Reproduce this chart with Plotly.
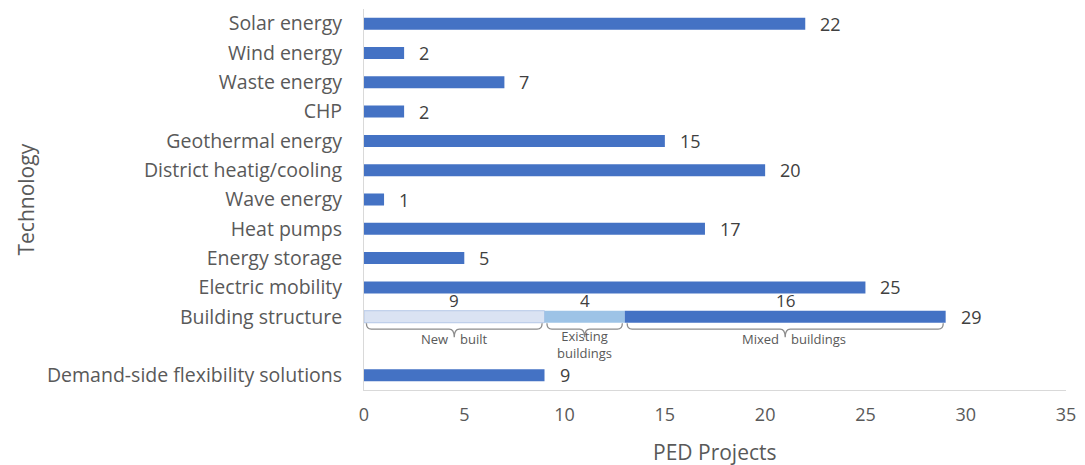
import plotly.graph_objects as go

# Technologies adopted by PED projects (top to bottom)
categories = [
    "Solar energy", "Wind energy", "Waste energy", "CHP", "Geothermal energy",
    "District heatig/cooling", "Wave energy", "Heat pumps", "Energy storage",
    "Electric mobility", "Building structure", "", "Demand-side flexibility solutions",
]
project_counts = [22, 2, 7, 2, 15, 20, 1, 17, 5, 25, None, None, 9]

# Building structure breakdown
building_types = ["New built", "Existing buildings", "Mixed buildings"]
building_counts = [9, 4, 16]
building_colors = ["#dae3f3", "#9dc3e6", "#4472c4"]

x_ticks = [0, 5, 10, 15, 20, 25, 30, 35]

FONT = "Open Sans"
BAR = "#4472c4"
TXT = "#595959"
VAL = "#404040"
BAR_W = 0.41

positions = list(range(len(categories)))
b_idx = categories.index("Building structure")

fig = go.Figure()

# simple bars
sx, sy = [], []
for p, v in zip(positions, project_counts):
    if v is not None:
        sx.append(v)
        sy.append(p)
fig.add_trace(go.Bar(x=sx, y=sy, orientation="h", width=BAR_W,
                     marker=dict(color=BAR, line=dict(width=0)),
                     hoverinfo="x+y", showlegend=False))

# stacked building structure bar
base = 0
bases = []
for name, cnt, col in zip(building_types, building_counts, building_colors):
    bases.append(base)
    fig.add_trace(go.Bar(x=[cnt], y=[b_idx], base=[base], orientation="h",
                         width=BAR_W, name=name, showlegend=False,
                         marker=dict(color=col,
                                     line=dict(width=1 if col == "#dae3f3" else 0,
                                               color="#b4c7e7"))))
    base += cnt
total_building = base

annotations = []
val_font = dict(family=FONT, size=18, color=VAL)
# value labels
for p, v in zip(positions, project_counts):
    if v is not None:
        annotations.append(dict(x=v, y=p, text=str(v), xanchor="left", yanchor="middle",
                                xshift=13, showarrow=False, font=val_font))
annotations.append(dict(x=total_building, y=b_idx, text=str(total_building),
                        xanchor="left", yanchor="middle", xshift=13, showarrow=False,
                        font=val_font))

shapes = []
y_top = b_idx + 0.22
y_mid = b_idx + 0.42
y_bot = b_idx + 0.70
d = 0.25
for name, cnt, b0 in zip(building_types, building_counts, bases):
    x0, x1 = b0 + 0.12, b0 + cnt - 0.12
    xc = b0 + cnt / 2
    # segment count above the bar
    annotations.append(dict(x=xc, y=b_idx, text=str(cnt), yshift=16, showarrow=False,
                            xanchor="center", yanchor="middle",
                            font=dict(family=FONT, size=17, color=VAL)))
    # curly brace under the segment
    path = (f"M {x0},{y_top} Q {x0},{y_mid} {x0 + d},{y_mid} "
            f"L {xc - d},{y_mid} Q {xc},{y_mid} {xc},{y_bot} "
            f"Q {xc},{y_mid} {xc + d},{y_mid} "
            f"L {x1 - d},{y_mid} Q {x1},{y_mid} {x1},{y_top}")
    shapes.append(dict(type="path", path=path, xref="x", yref="y",
                       line=dict(color="#8c8c8c", width=1.3)))
    words = name.split(" ")
    lab_font = dict(family=FONT, size=13, color=TXT)
    if name == "Existing buildings":
        annotations.append(dict(x=xc, y=b_idx + 0.95, text="<br>".join(words),
                                showarrow=False, xanchor="center", yanchor="middle",
                                font=lab_font))
    else:
        annotations.append(dict(x=xc, y=b_idx + 0.75, text=words[0], showarrow=False,
                                xanchor="right", yanchor="middle", xshift=-4,
                                font=lab_font))
        annotations.append(dict(x=xc, y=b_idx + 0.75, text=words[1], showarrow=False,
                                xanchor="left", yanchor="middle", xshift=4,
                                font=lab_font))

# axis titles
annotations.append(dict(x=0, y=0.5, xref="paper", yref="paper", xshift=-339,
                        text="Technology", textangle=-90, showarrow=False,
                        xanchor="center", yanchor="middle",
                        font=dict(family=FONT, size=21, color=TXT)))
annotations.append(dict(x=0.5, y=0, xref="paper", yref="paper", yshift=-62,
                        text="PED Projects", showarrow=False,
                        xanchor="center", yanchor="middle",
                        font=dict(family=FONT, size=21, color=TXT)))

fig.update_layout(
    width=1085, height=465,
    margin=dict(l=364, r=12, t=9, b=75),
    paper_bgcolor="white", plot_bgcolor="white",
    barmode="overlay",
    annotations=annotations, shapes=shapes,
    xaxis=dict(range=[0, 35], tickvals=x_ticks, showgrid=False, zeroline=False,
               showline=True, linecolor="#d9d9d9", linewidth=1,
               ticks="outside", ticklen=8, tickcolor="rgba(0,0,0,0)",
               tickfont=dict(family=FONT, size=18, color=TXT)),
    yaxis=dict(range=[len(categories) - 0.5, -0.5], tickvals=positions,
               ticktext=categories, showgrid=False, zeroline=False,
               showline=True, linecolor="#d9d9d9", linewidth=1,
               ticks="outside", ticklen=17, tickcolor="rgba(0,0,0,0)",
               tickfont=dict(family=FONT, size=19.5, color=TXT)),
)

fig.write_html("out.html")
